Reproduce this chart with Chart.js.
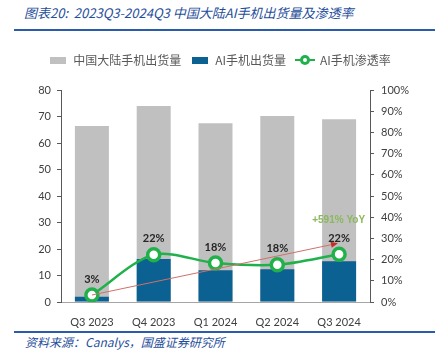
<!DOCTYPE html>
<html>
<head>
<meta charset="utf-8">
<script src="https://cdn.jsdelivr.net/npm/chart.js@4"></script>
<style>
  body { margin: 0; width: 440px; height: 363px; background: #fff; position: relative; overflow: hidden; }
  .title { position: absolute; left: 24px; top: 3px; font: italic 13px "Noto Sans CJK SC", sans-serif; color: #1f4e9a; white-space: nowrap; }
  .rule { position: absolute; left: 14px; width: 421px; height: 2px; background: #2a5caa; }
  .source { position: absolute; left: 25px; top: 333px; font: italic 12px "Noto Sans CJK SC", sans-serif; color: #1f4e9a; white-space: nowrap; }
  #wrap { position: absolute; left: 0; top: 38px; width: 440px; height: 290px; }
</style>
</head>
<body>
<div class="title">图表20:&nbsp; 2023Q3-2024Q3 中国大陆AI手机出货量及渗透率</div>
<div class="rule" style="top:29px"></div>
<div id="wrap"><canvas id="chart"></canvas></div>
<div class="rule" style="top:331px"></div>
<div class="source">资料来源：Canalys，国盛证券研究所</div>
<script>
// data
const quarters = ['Q3 2023', 'Q4 2023', 'Q1 2024', 'Q2 2024', 'Q3 2024'];
const totalShipments = [66.4, 74, 67.5, 70.2, 69];   // 中国大陆手机出货量 (百万台)
const aiShipments = [2, 16.2, 12, 12.4, 15.4];        // AI手机出货量
const aiRate = [3.3, 22.3, 18.4, 17.6, 22.5];         // AI手机渗透率 (%)
const rateLabels = ['3%', '22%', '18%', '18%', '22%'];
const yoyText = '+591% YoY';

const GRAY = '#c0c0c0', BLUE = '#0b6192', GREEN = '#21b14b';

// little images for the legend markers
function boxImg(color) {
    const c = document.createElement('canvas');
    c.width = 16; c.height = 7;
    const g = c.getContext('2d');
    g.fillStyle = color; g.fillRect(0, 0, 16, 7);
    return c;
}
function lineImg() {
    const c = document.createElement('canvas');
    c.width = 20; c.height = 12;
    const g = c.getContext('2d');
    g.strokeStyle = GREEN; g.lineWidth = 2;
    g.beginPath(); g.moveTo(0, 6); g.lineTo(20, 6); g.stroke();
    g.fillStyle = GREEN; g.beginPath(); g.arc(10, 6, 5, 0, Math.PI * 2); g.fill();
    g.fillStyle = '#fff'; g.beginPath(); g.arc(10, 6, 2, 0, Math.PI * 2); g.fill();
    return c;
}
const legendImgs = [boxImg(GRAY), boxImg(BLUE), lineImg()];

// leave more room under the legend
const legendGap = {
    id: 'legendGap',
    beforeInit(chart) {
        const orig = chart.legend.fit;
        chart.legend.fit = function () {
            orig.call(this);
            this.height += 14;
        };
    }
};

// labels above points, the red trend arrow and the YoY note
const extras = {
    id: 'extras',
    afterDatasetsDraw(chart) {
        const ctx = chart.ctx;
        const x = chart.scales.x, y2 = chart.scales.y2;
        ctx.save();
        // arrow
        const x0 = x.getPixelForValue(0), yA = y2.getPixelForValue(aiRate[0]);
        const x1 = x.getPixelForValue(3.95), yB = y2.getPixelForValue(27.5);
        ctx.strokeStyle = '#d0706a'; ctx.fillStyle = '#c0302a'; ctx.lineWidth = 1;
        ctx.beginPath(); ctx.moveTo(x0, yA); ctx.lineTo(x1, yB); ctx.stroke();
        const ang = Math.atan2(yB - yA, x1 - x0);
        ctx.beginPath();
        ctx.moveTo(x1 + 2 * Math.cos(ang), yB + 2 * Math.sin(ang));
        ctx.lineTo(x1 - 5 * Math.cos(ang) + 3 * Math.sin(ang), yB - 5 * Math.sin(ang) - 3 * Math.cos(ang));
        ctx.lineTo(x1 - 5 * Math.cos(ang) - 3 * Math.sin(ang), yB - 5 * Math.sin(ang) + 3 * Math.cos(ang));
        ctx.closePath(); ctx.fill();
        // yoy
        ctx.fillStyle = '#8ab85c';
        ctx.font = 'bold 10px "Liberation Sans", sans-serif';
        ctx.textAlign = 'right'; ctx.textBaseline = 'middle';
        ctx.fillText(yoyText, x.getPixelForValue(4) + 26, y2.getPixelForValue(38.6));
        ctx.restore();
    },
    afterDraw(chart) {
        const ctx = chart.ctx;
        const meta = chart.getDatasetMeta(2);
        ctx.save();
        ctx.fillStyle = '#262626';
        ctx.font = 'bold 11px Lato, sans-serif';
        ctx.textAlign = 'center'; ctx.textBaseline = 'middle';
        meta.data.forEach((pt, i) => {
            ctx.fillText(rateLabels[i], pt.x, pt.y - 16);
        });
        ctx.restore();
    }
};

new Chart(document.getElementById('chart'), {
    data: {
        labels: quarters,
        datasets: [
            { type: 'bar', label: '中国大陆手机出货量', data: totalShipments, backgroundColor: GRAY,
              yAxisID: 'y', order: 2, grouped: false, barPercentage: 0.55, categoryPercentage: 1 },
            { type: 'bar', label: 'AI手机出货量', data: aiShipments, backgroundColor: BLUE,
              yAxisID: 'y', order: 1, grouped: false, barPercentage: 0.55, categoryPercentage: 1 },
            { type: 'line', label: 'AI手机渗透率', data: aiRate, yAxisID: 'y2', order: 0,
              borderColor: GREEN, borderWidth: 2.5, tension: 0.3,
              pointRadius: 6, pointBorderWidth: 3.5, pointBackgroundColor: '#fff', pointBorderColor: GREEN }
        ]
    },
    options: {
        responsive: true,
        maintainAspectRatio: false,
        animation: false,
        layout: { padding: { left: 0, right: 0, top: 6, bottom: 0 } },
        plugins: {
            tooltip: { enabled: false },
            legend: {
                position: 'top',
                labels: {
                    usePointStyle: true,
                    pointStyleWidth: 18,
                    boxHeight: 12,
                    padding: 10,
                    color: '#595959',
                    font: { family: '"Noto Sans CJK SC", sans-serif', size: 12 },
                    sort: (a, b) => a.datasetIndex - b.datasetIndex,
                    generateLabels(chart) {
                        const items = Chart.defaults.plugins.legend.labels.generateLabels(chart);
                        items.forEach(it => { it.pointStyle = legendImgs[it.datasetIndex]; });
                        return items;
                    }
                }
            }
        },
        scales: {
            x: {
                grid: { display: false },
                border: { display: true, color: '#a6a6a6' },
                ticks: { color: '#404040', font: { family: 'Lato, sans-serif', size: 11 }, padding: 6 },
                afterFit(s) { s.height = 26; }
            },
            y: {
                position: 'left', min: 0, max: 80,
                ticks: { stepSize: 10, color: '#404040', font: { family: 'Lato, sans-serif', size: 11 }, padding: 6 },
                grid: { drawOnChartArea: false, drawTicks: true, tickLength: 4, color: '#595959' },
                border: { display: true, color: '#595959' },
                afterFit(s) { s.width = 61; }
            },
            y2: {
                position: 'right', min: 0, max: 100,
                ticks: { stepSize: 10, color: '#404040', font: { family: 'Lato, sans-serif', size: 11 }, padding: 7,
                         callback: v => v + '%' },
                grid: { drawOnChartArea: false, drawTicks: true, tickLength: 4, color: '#595959' },
                border: { display: true, color: '#595959' },
                afterFit(s) { s.width = 70; }
            }
        }
    },
    plugins: [legendGap, extras]
});
</script>
</body>
</html>
